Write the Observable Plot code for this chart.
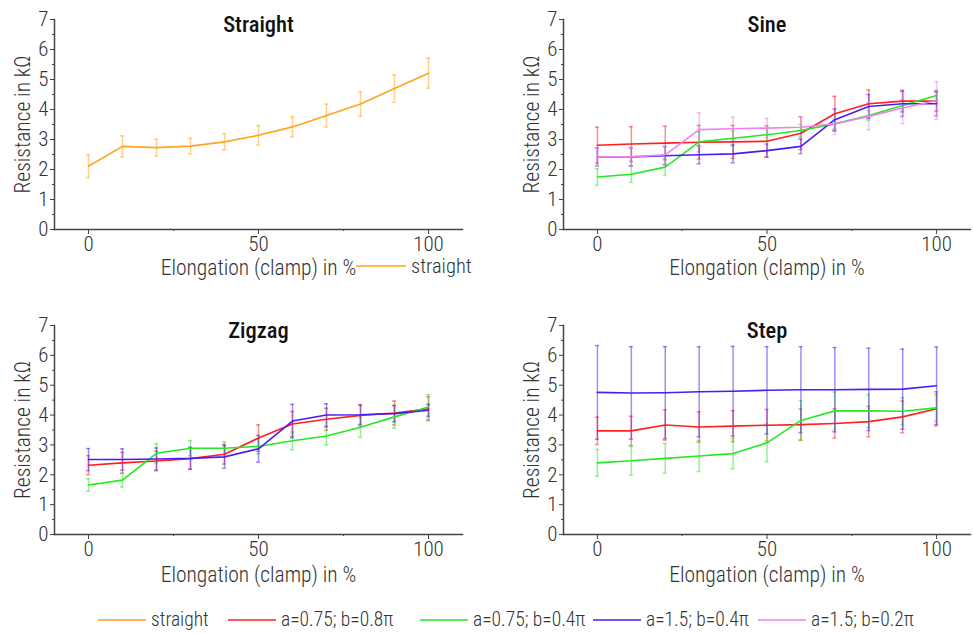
<!DOCTYPE html>
<html>
<head>
<meta charset="utf-8">
<script src="https://cdn.jsdelivr.net/npm/d3@7"></script>
<script src="https://cdn.jsdelivr.net/npm/@observablehq/plot@0.6"></script>
<style>
  body { margin: 0; background: #fff; }
  #chart { position: relative; width: 973px; height: 634px; overflow: hidden;
    font-family: "Roboto Condensed", "Liberation Sans Narrow", "DejaVu Sans Condensed", Roboto, sans-serif; color: #333; }
  .panel { position: absolute; }
  .legend { position: absolute; display: flex; align-items: center; font-size: 19.5px; line-height: 1; font-weight: 300; color: #333; white-space: nowrap; }
  .legend svg { margin-right: 5px; }
</style>
</head>
<body>
<div id="chart"></div>
<script>
// ---------- data ----------
const elongation = [0, 10, 20, 30, 40, 50, 60, 70, 80, 90, 100];
const seriesNames = ["straight", "a=0.75; b=0.8π", "a=0.75; b=0.4π", "a=1.5; b=0.4π", "a=1.5; b=0.2π"];
const seriesColors = ["#FFA41C", "#FF1F1F", "#25E825", "#4A1CF5", "#EE82EE"];
const legendColors = ["#FF9A2E", "#FF1F1F", "#25E825", "#4A1CF5", "#EE82EE"];
const panelTitles = ["Straight", "Sine", "Zigzag", "Step"];
const yTicks = [0, 1, 2, 3, 4, 5, 6, 7];
const xTicks = [0, 50, 100];

// Straight
const straightMean = [2.11, 2.77, 2.73, 2.78, 2.92, 3.14, 3.42, 3.80, 4.18, 4.70, 5.21];
const straightErr  = [0.38, 0.35, 0.28, 0.26, 0.27, 0.32, 0.34, 0.38, 0.41, 0.46, 0.50];

// Sine
const sineA075b08Mean = [2.81, 2.85, 2.88, 2.91, 2.92, 2.94, 3.21, 3.86, 4.19, 4.28, 4.28];
const sineA075b08Err  = [0.60, 0.58, 0.56, 0.56, 0.55, 0.52, 0.55, 0.58, 0.46, 0.36, 0.34];
const sineA075b04Mean = [1.75, 1.84, 2.08, 2.92, 3.04, 3.16, 3.30, 3.52, 3.80, 4.13, 4.47];
const sineA075b04Err  = [0.28, 0.27, 0.28, 0.33, 0.25, 0.22, 0.20, 0.16, 0.16, 0.20, 0.17];
const sineA15b04Mean  = [2.42, 2.42, 2.46, 2.49, 2.52, 2.63, 2.77, 3.66, 4.10, 4.19, 4.19];
const sineA15b04Err   = [0.30, 0.30, 0.30, 0.30, 0.30, 0.22, 0.24, 0.36, 0.40, 0.42, 0.40];
const sineA15b02Mean  = [2.42, 2.42, 2.49, 3.33, 3.36, 3.38, 3.41, 3.52, 3.77, 4.05, 4.30];
const sineA15b02Err   = [0.30, 0.30, 0.30, 0.56, 0.38, 0.32, 0.35, 0.35, 0.45, 0.52, 0.63];

// Zigzag
const zigA075b08Mean = [2.32, 2.40, 2.46, 2.54, 2.69, 3.23, 3.70, 3.86, 3.99, 4.07, 4.21];
const zigA075b08Err  = [0.32, 0.35, 0.33, 0.35, 0.33, 0.44, 0.42, 0.37, 0.35, 0.40, 0.40];
const zigA075b04Mean = [1.66, 1.82, 2.72, 2.89, 2.89, 2.95, 3.14, 3.30, 3.59, 3.94, 4.27];
const zigA075b04Err  = [0.21, 0.23, 0.32, 0.25, 0.22, 0.25, 0.30, 0.30, 0.33, 0.38, 0.42];
const zigA15b04Mean  = [2.51, 2.51, 2.53, 2.55, 2.60, 2.87, 3.80, 4.00, 4.01, 4.05, 4.16];
const zigA15b04Err   = [0.37, 0.36, 0.37, 0.37, 0.38, 0.45, 0.56, 0.38, 0.32, 0.27, 0.20];

// Step
const stepA075b08Mean = [3.47, 3.47, 3.67, 3.60, 3.63, 3.66, 3.68, 3.72, 3.78, 3.94, 4.21];
const stepA075b08Err  = [0.46, 0.49, 0.51, 0.51, 0.52, 0.53, 0.52, 0.49, 0.51, 0.53, 0.57];
const stepA075b04Mean = [2.40, 2.47, 2.55, 2.63, 2.71, 3.07, 3.82, 4.14, 4.14, 4.13, 4.24];
const stepA075b04Err  = [0.45, 0.48, 0.50, 0.52, 0.51, 0.63, 0.67, 0.63, 0.55, 0.45, 0.45];
const stepA15b04Mean  = [4.76, 4.74, 4.75, 4.78, 4.80, 4.83, 4.85, 4.85, 4.86, 4.87, 4.98];
const stepA15b04Err   = [1.57, 1.55, 1.54, 1.51, 1.50, 1.46, 1.44, 1.41, 1.38, 1.34, 1.30];

// ---------- build ----------
function rows(si, mean, err) {
  return elongation.map((x, i) => ({x, y: mean[i], e: err[i], s: seriesNames[si], c: seriesColors[si]}));
}
const panels = [
  {title: panelTitles[0], series: [rows(0, straightMean, straightErr)], left: 0, top: 0},
  {title: panelTitles[1], series: [rows(1, sineA075b08Mean, sineA075b08Err), rows(2, sineA075b04Mean, sineA075b04Err), rows(3, sineA15b04Mean, sineA15b04Err), rows(4, sineA15b02Mean, sineA15b02Err)], left: 486, top: 0},
  {title: panelTitles[2], series: [rows(1, zigA075b08Mean, zigA075b08Err), rows(2, zigA075b04Mean, zigA075b04Err), rows(3, zigA15b04Mean, zigA15b04Err)], left: 0, top: 300},
  {title: panelTitles[3], series: [rows(1, stepA075b08Mean, stepA075b08Err), rows(2, stepA075b04Mean, stepA075b04Err), rows(3, stepA15b04Mean, stepA15b04Err)], left: 486, top: 300}
];

const FONT = '"Roboto Condensed", "Liberation Sans Narrow", "DejaVu Sans Condensed", Roboto, sans-serif';
const chart = document.getElementById("chart");

panels.forEach((p, k) => {
  const isRight = k % 2 === 1;
  const isTop = k < 2;
  const width = isRight ? 487 : 480;
  const height = 290;
  const marginLeft = isRight ? 77 : 54;
  const marginRight = isRight ? 3 : 18;
  const marginTop = isTop ? 19 : 25;
  const marginBottom = isTop ? 61 : 56;
  const marks = [];
  p.series.forEach(data => {
    const col = data[0].c;
    marks.push(Plot.ruleX(data, {x: "x", y1: d => d.y - d.e, y2: d => d.y + d.e, stroke: col, strokeOpacity: 0.5, strokeWidth: 1.5}));
    marks.push(Plot.ruleY(data, {x1: d => d.x - 0.6, x2: d => d.x + 0.6, y: d => d.y - d.e, stroke: col, strokeOpacity: 0.5, strokeWidth: 1.5}));
    marks.push(Plot.ruleY(data, {x1: d => d.x - 0.6, x2: d => d.x + 0.6, y: d => d.y + d.e, stroke: col, strokeOpacity: 0.5, strokeWidth: 1.5}));
  });
  p.series.forEach(data => {
    marks.push(Plot.line(data, {x: "x", y: "y", stroke: data[0].c, strokeWidth: 1.6}));
  });
  marks.push(
    Plot.axisY({ticks: [0.5, 1.5, 2.5, 3.5, 4.5, 5.5, 6.5], tickSize: 2, text: null, label: null, stroke: "#444"}),
    Plot.axisY({ticks: yTicks, tickFormat: d => String(d), tickSize: 4, tickPadding: 2, fontSize: 21, fontWeight: 300, fill: "#333", stroke: "#444", label: null}),
    Plot.axisX({ticks: [25, 75], tickSize: 2, text: null, label: null, stroke: "#444"}),
    Plot.axisX({ticks: xTicks, tickFormat: d => String(d), tickSize: 5, tickPadding: 2, fontSize: 21, fontWeight: 300, fill: "#333", stroke: "#444", label: null}),
    Plot.frame({anchor: "left", stroke: "#444", strokeWidth: 1.5}),
    Plot.frame({anchor: "bottom", stroke: "#444", strokeWidth: 1.5}),
    Plot.text([p.title], {x: 50, y: 7, dy: 5, fontSize: 22.5, fontWeight: 500, fill: "#111"}),
    Plot.text(["Resistance in kΩ"], {frameAnchor: "left", textAnchor: "middle", lineAnchor: "middle", rotate: -90, dx: -31, fontSize: 21.5, fontWeight: 300, fill: "#333"}),
    Plot.text(["Elongation (clamp) in %"], {frameAnchor: "bottom", lineAnchor: "middle", dy: isTop ? 39 : 41, fontSize: 21.5, fontWeight: 300, fill: "#333"})
  );
  const svg = Plot.plot({
    width, height, marginLeft, marginRight, marginTop, marginBottom,
    style: {fontFamily: FONT, background: "transparent", overflow: "visible"},
    x: {domain: [-10, 110]},
    y: {domain: [0, 7]},
    marks
  });
  svg.classList.add("panel");
  svg.style.left = p.left + "px";
  svg.style.top = p.top + "px";
  chart.appendChild(svg);
});

function swatch(color, w) {
  return `<svg width="${w}" height="4" style="display:block"><line x1="0" x2="${w}" y1="2" y2="2" stroke="${color}" stroke-width="1.5"/></svg>`;
}
function legendItem(i, left, top, w, color, size) {
  const el = document.createElement("div");
  el.className = "legend";
  el.style.left = left + "px";
  el.style.top = top + "px";
  if (size) el.style.fontSize = size + "px";
  el.innerHTML = `${swatch(color, w)}<span>${seriesNames[i]}</span>`;
  chart.appendChild(el);
}

// inline legend in the Straight panel
legendItem(0, 356, 256, 50, seriesColors[0], 20.5);

// bottom legend
const legendStarts = [98, 228, 420, 593, 758];
legendStarts.forEach((x, i) => legendItem(i, x, 610, 48, legendColors[i]));
</script>
</body>
</html>
